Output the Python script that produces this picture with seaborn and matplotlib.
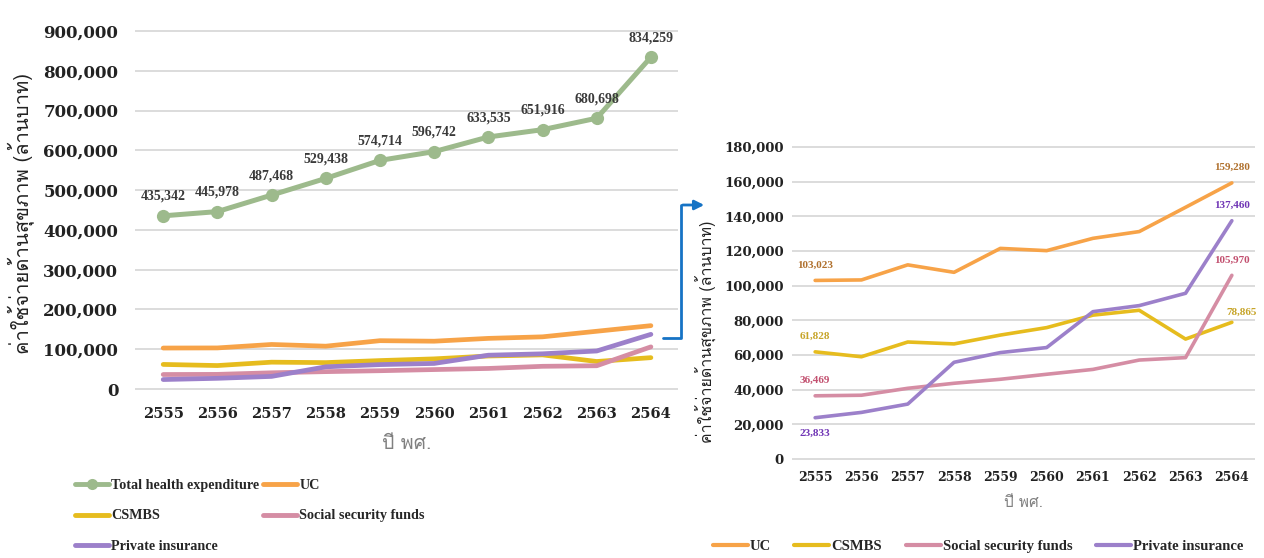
import numpy as np
import pandas as pd
import matplotlib
matplotlib.use("Agg")
import matplotlib.pyplot as plt
from matplotlib.lines import Line2D
from matplotlib import font_manager
from matplotlib.ft2font import FT2Font
import seaborn as sns

years = [2555, 2556, 2557, 2558, 2559, 2560, 2561, 2562, 2563, 2564]
total = [435342, 445978, 487468, 529438, 574714, 596742, 633535, 651916, 680698, 834259]
uc = [103023, 103300, 112000, 107700, 121500, 120200, 127300, 131200, 145200, 159280]
csmbs = [61828, 59000, 67500, 66400, 71500, 75800, 83000, 85800, 69200, 78865]
ssf = [36469, 36800, 40800, 43700, 46000, 48900, 51700, 57100, 58500, 105970]
private = [23833, 26900, 31700, 55800, 61400, 64300, 85000, 88500, 95600, 137460]

series_names = ["UC", "CSMBS", "Social security funds", "Private insurance"]
colors = {"Total health expenditure": "#9DBA8C", "UC": "#F7A348",
          "CSMBS": "#E6BC1E", "Social security funds": "#D58DA4",
          "Private insurance": "#9C80CA"}
label_colors = {"UC": "#B0712E", "CSMBS": "#C7A52A",
                "Social security funds": "#C2506F", "Private insurance": "#7035B5"}

ylabel_txt = "ค่าใช้จ่ายด้านสุขภาพ (ล้านบาท)"
xlabel_txt = "ปี พศ."

sns.set_theme(style="white")

# find a font with Thai glyphs
thai_family = None
for fe in font_manager.fontManager.ttflist:
    try:
        f = FT2Font(fe.fname)
        if ord("ค") in f.get_charmap():
            thai_family = fe.name
            break
    except Exception:
        pass
thai_fams = ([thai_family] if thai_family else []) + ["DejaVu Sans"]

plt.rcParams["font.family"] = ["DejaVu Serif"]

df_total = pd.DataFrame({"year": years, "value": total})
df_sub = pd.DataFrame({
    "year": years * 4,
    "value": uc + csmbs + ssf + private,
    "series": [s for s in series_names for _ in years],
})

fig = plt.figure(figsize=(12.64, 5.58), dpi=100)
W, H = 1264, 558

def frac(x0, y0, x1, y1):
    return [x0 / W, 1 - y1 / H, (x1 - x0) / W, (y1 - y0) / H]

ax1 = fig.add_axes(frac(135, 27, 678, 393))
ax2 = fig.add_axes(frac(792, 143.5, 1255, 462.5))

grid_c = "#D9D9D9"
for ax in (ax1, ax2):
    for s in ax.spines.values():
        s.set_visible(False)
    ax.tick_params(axis="both", length=0)
    ax.grid(axis="y", color=grid_c, linewidth=1.3)
    ax.grid(axis="x", visible=False)
    ax.set_axisbelow(True)

# ---- left chart
sns.lineplot(data=df_sub, x="year", y="value", hue="series", palette=colors,
             hue_order=series_names, linewidth=3.4, ax=ax1, legend=False)
sns.lineplot(data=df_total, x="year", y="value", color=colors["Total health expenditure"],
             linewidth=3.6, marker="o", markersize=9.5, markeredgewidth=0, ax=ax1)
ax1.set_xlim(2554.48, 2564.5)
ax1.set_ylim(-10000, 910000)
ax1.set_yticks(np.arange(0, 900001, 100000))
ax1.set_yticklabels([f"{v:,}" for v in range(0, 900001, 100000)],
                    fontsize=12, fontweight="bold", color="#222222")
ax1.set_xticks(years)
ax1.set_xticklabels([str(y) for y in years], fontsize=10.5, fontweight="bold", color="#222222")
ax1.tick_params(axis="y", pad=12)
ax1.tick_params(axis="x", pad=10)
ax1.set_xlabel(xlabel_txt, family=thai_fams, fontsize=14, color="#808080", labelpad=10)
ax1.set_ylabel(ylabel_txt, family=thai_fams, fontsize=14.5, color="#222222")
ax1.yaxis.set_label_coords(-0.186, 0.49)
for x, v in zip(years, total):
    ax1.annotate(f"{v:,}", (x, v), xytext=(0, 14), textcoords="offset points",
                 ha="center", va="center", fontsize=10, fontweight="bold",
                 family="Liberation Serif", color="#3a3a3a")

# ---- right chart
sns.lineplot(data=df_sub, x="year", y="value", hue="series", palette=colors,
             hue_order=series_names, linewidth=2.6, ax=ax2, legend=False)
ax2.set_xlim(2554.5, 2564.5)
ax2.set_ylim(-2000, 182000)
ax2.set_yticks(np.arange(0, 180001, 20000))
ax2.set_yticklabels([f"{v:,}" for v in range(0, 180001, 20000)],
                    fontsize=9.5, fontweight="bold", color="#222222")
ax2.set_xticks(years)
ax2.set_xticklabels([str(y) for y in years], fontsize=9, fontweight="bold", color="#222222")
ax2.tick_params(axis="y", pad=6)
ax2.tick_params(axis="x", pad=6)
ax2.set_xlabel(xlabel_txt, family=thai_fams, fontsize=11, color="#808080", labelpad=9)
ax2.set_ylabel(ylabel_txt, family=thai_fams, fontsize=11.5, color="#222222")
ax2.yaxis.set_label_coords(-0.162, 0.41)

vals = {"UC": uc, "CSMBS": csmbs, "Social security funds": ssf, "Private insurance": private}
first_off = {"UC": (0, 11), "CSMBS": (0, 11), "Social security funds": (0, 11),
             "Private insurance": (0, -11)}
last_off = {"UC": (0, 11), "CSMBS": (7, 7), "Social security funds": (0, 11),
            "Private insurance": (0, 11)}
for name, arr in vals.items():
    ax2.annotate(f"{arr[0]:,}", (years[0], arr[0]), xytext=first_off[name],
                 textcoords="offset points", ha="center", va="center", fontsize=8,
                 fontweight="bold", family="Liberation Serif", color=label_colors[name])
    ax2.annotate(f"{arr[-1]:,}", (years[-1], arr[-1]), xytext=last_off[name],
                 textcoords="offset points", ha="center", va="center", fontsize=8,
                 fontweight="bold", family="Liberation Serif", color=label_colors[name])

# ---- legends
def h(name, marker=None, lw=3.5):
    return Line2D([], [], color=colors[name], linewidth=lw, marker=marker,
                  markersize=8 if marker else 0, markeredgewidth=0)

order1 = ["Total health expenditure", "CSMBS", "Private insurance", "UC", "Social security funds"]
leg1 = fig.legend([h(n, "o" if n.startswith("Total") else None) for n in order1], order1,
                  loc="upper left", bbox_to_anchor=(62 / W, 1 - 466 / H), ncol=2,
                  frameon=False, handlelength=2.4, handletextpad=0.15, columnspacing=0.3,
                  labelspacing=1.25, prop={"family": "Liberation Serif", "weight": "bold", "size": 10.2})

leg2 = fig.legend([h(n, lw=3) for n in series_names], series_names,
                  loc="center", bbox_to_anchor=(978 / W, 1 - 546 / H), ncol=4,
                  frameon=False, handlelength=2.4, handletextpad=0.15, columnspacing=1.6,
                  prop={"family": "Liberation Serif", "weight": "bold", "size": 10.5})

# ---- connecting arrow
blue = "#1673C5"
fig.add_artist(Line2D([663 / W, 681 / W, 681 / W], [1 - 338 / H, 1 - 338 / H, 1 - 205 / H],
                      color=blue, linewidth=2, transform=fig.transFigure))
fig.add_artist(matplotlib.patches.FancyArrowPatch(
    (680 / W, 1 - 205 / H), (707 / W, 1 - 205 / H), transform=fig.transFigure,
    arrowstyle="-|>", mutation_scale=14, color=blue, linewidth=2))

fig.savefig("out.png", dpi=100, facecolor="white")
